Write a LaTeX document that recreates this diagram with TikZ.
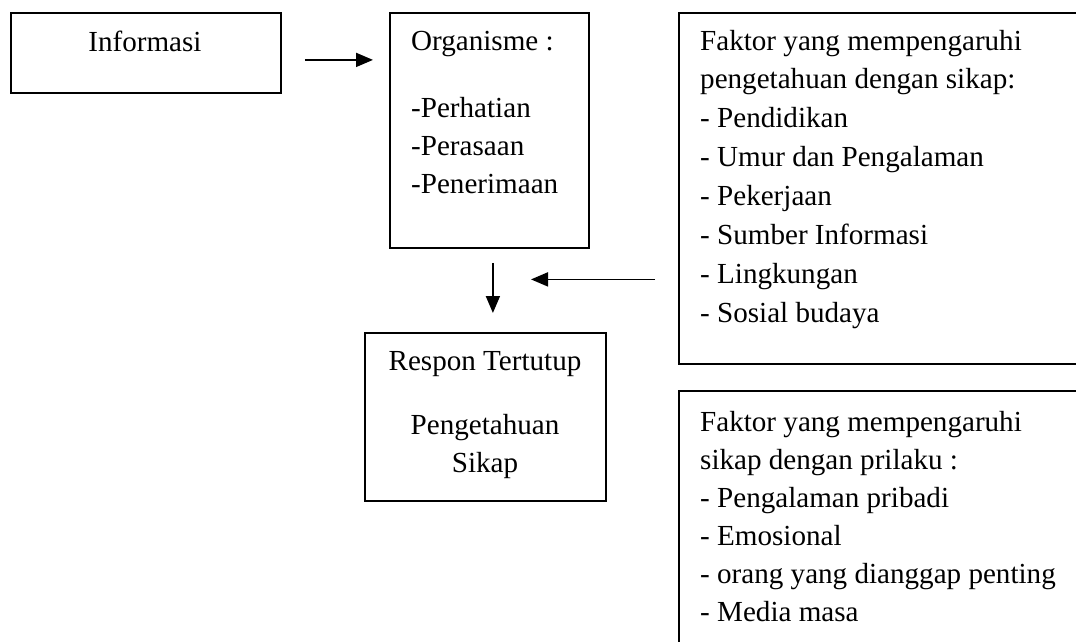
\documentclass[tikz,border=0pt]{standalone}
\usepackage{fontspec}
\setmainfont{Liberation Serif}
\usetikzlibrary{arrows.meta,calc}
\tikzset{
  box/.style={draw, line width=1.8pt, inner sep=0pt, anchor=north west},
  txt/.style={inner sep=0pt, font=\fontsize{29.1}{39}\selectfont},
  arr/.style={line width=1.8pt, -{Triangle[length=17pt,width=14pt]}},
}
\begin{document}
\begin{tikzpicture}[x=1pt,y=-1pt]
\useasboundingbox (0,0) rectangle (1076,641);
\fill[white] (0,0) rectangle (1076,641);
% boxes
\node[box, minimum width=270pt, minimum height=80pt] (inf) at (10,12) {};
\node[box, minimum width=199pt, minimum height=235pt] (org) at (389,12) {};
\node[box, minimum width=241pt, minimum height=168pt] (res) at (364,332) {};
\node[box, minimum width=430pt, minimum height=351pt] (fk1) at (678,12) {};
\node[box, minimum width=430pt, minimum height=290pt] (fk2) at (678,390) {};
% texts
\node[txt, anchor=base] (tinf) at (145,51) {Informasi};
\node[txt, anchor=base west] (to1) at (411,50) {Organisme :};
\node[txt, anchor=base west] (to2) at (411,117) {-Perhatian};
\node[txt, anchor=base west] (to3) at (411,155) {-Perasaan};
\node[txt, anchor=base west] (to4) at (411,193) {-Penerimaan};
\node[txt, anchor=base] (tr1) at (485,370) {Respon Tertutup};
\node[txt, anchor=base] (tr2) at (485,434) {Pengetahuan};
\node[txt, anchor=base] (tr3) at (485,472) {Sikap};
\foreach \t [count=\i from 0] in {Faktor yang mempengaruhi, pengetahuan dengan sikap:, - Pendidikan, - Umur dan Pengalaman, - Pekerjaan, - Sumber Informasi, - Lingkungan, - Sosial budaya}
  \node[txt, anchor=base west] (ta\i) at (700,{50+38.9*\i}) {\t};
\foreach \t [count=\i from 0] in {Faktor yang mempengaruhi, sikap dengan prilaku :, - Pengalaman pribadi, - Emosional, - orang yang dianggap penting, - Media masa}
  \node[txt, anchor=base west] (tb\i) at (700,{431+38.0*\i}) {\t};
% connectors
\draw[arr] ([shift={(23,7)}]inf.east) -- ([shift={(-16,7)}]inf.east -| org.west);
\draw[arr] ([shift={(3.5,14)}]org.south) -- ([shift={(3.5,-19)}]org.south |- res.north);
\coordinate (lt) at ([shift={(-147,91)}]fk1.west);
\draw[arr] ([shift={(-23,91)}]fk1.west) -- (lt);
\end{tikzpicture}
\end{document}
